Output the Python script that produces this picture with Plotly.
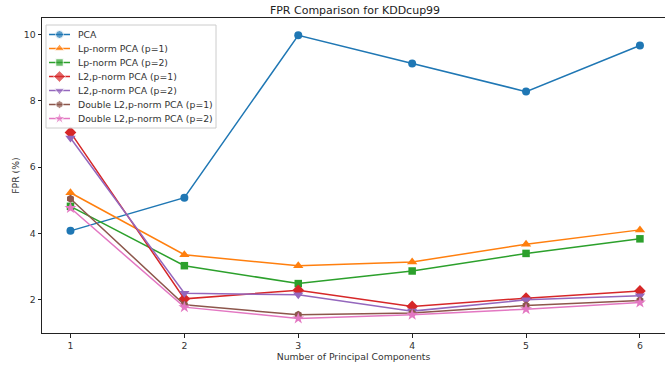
import plotly.graph_objects as go

components = [1, 2, 3, 4, 5, 6]
pca = [4.08, 5.08, 9.98, 9.13, 8.28, 9.67]
lp_p1 = [5.23, 3.36, 3.03, 3.14, 3.68, 4.11]
lp_p2 = [4.82, 3.03, 2.49, 2.87, 3.40, 3.84]
l2p_p1 = [7.05, 2.03, 2.29, 1.80, 2.05, 2.27]
l2p_p2 = [6.88, 2.20, 2.15, 1.66, 2.00, 2.12]
dl2p_p1 = [5.05, 1.85, 1.55, 1.60, 1.83, 1.98]
dl2p_p2 = [4.77, 1.78, 1.44, 1.55, 1.72, 1.92]
y_ticks = [2, 4, 6, 8, 10]

series = [
    ("PCA", pca, "#1f77b4", "circle", 8),
    ("Lp-norm PCA (p=1)", lp_p1, "#ff7f0e", "triangle-up", 9),
    ("Lp-norm PCA (p=2)", lp_p2, "#2ca02c", "square", 7.5),
    ("L2,p-norm PCA (p=1)", l2p_p1, "#d62728", "diamond", 9),
    ("L2,p-norm PCA (p=2)", l2p_p2, "#9467bd", "triangle-down", 9),
    ("Double L2,p-norm PCA (p=1)", dl2p_p1, "#8c564b", "hexagon", 8),
    ("Double L2,p-norm PCA (p=2)", dl2p_p2, "#e377c2", "star", 9),
]

W, H = 665, 365
ML, MT, MB = 42, 18, 32
font = "DejaVu Sans"

fig = go.Figure()
for name, vals, color, sym, ms in series:
    fig.add_trace(go.Scatter(
        x=components, y=vals, name=name, mode="lines+markers",
        line=dict(color=color, width=1.5),
        marker=dict(symbol=sym, size=ms, color=color),
        showlegend=False,
    ))

# custom matplotlib-style legend drawn on an overlay axis in screen pixels
bx0, by0, bx1, by1 = 46, 25, 216, 128
fig.add_trace(go.Scatter(
    x=[bx0, bx1, bx1, bx0, bx0], y=[by0, by0, by1, by1, by0],
    xaxis="x2", yaxis="y2", mode="lines", fill="toself",
    fillcolor="rgba(255,255,255,0.85)", line=dict(color="#cccccc", width=1),
    hoverinfo="skip", showlegend=False,
))
row0, row_step = 34.5, 14.0
annotations = []
for i, (name, vals, color, sym, ms) in enumerate(series):
    yy = row0 + i * row_step
    fig.add_trace(go.Scatter(
        x=[49, 59.5, 70], y=[yy, yy, yy], xaxis="x2", yaxis="y2",
        mode="lines+markers", line=dict(color=color, width=1.5),
        marker=dict(symbol=sym, size=[0, ms, 0], color=color),
        hoverinfo="skip", showlegend=False,
    ))
    annotations.append(dict(
        x=76, y=yy, xref="x2", yref="y2", text=name, showarrow=False,
        xanchor="left", yanchor="middle", font=dict(size=9.3, color="#333"),
    ))

fig.update_layout(
    width=W, height=H,
    margin=dict(l=ML, r=0, t=MT, b=MB),
    paper_bgcolor="white", plot_bgcolor="white",
    font=dict(family=font, size=9.3, color="#333"),
    title=dict(text="FPR Comparison for KDDcup99", x=355 / W, xanchor="center",
               y=1 - 10.5 / H, yanchor="middle", yref="container",
               font=dict(size=11, color="#222")),
    xaxis=dict(range=[0.75, 6.22], tickvals=components, showgrid=False, zeroline=False,
               showline=True, linecolor="#222", linewidth=1, mirror=True,
               ticks="outside", ticklen=3.5, tickcolor="#222", automargin=False,
               title=dict(text="Number of Principal Components", font=dict(size=9.3), standoff=3),
               tickfont=dict(size=9.3)),
    yaxis=dict(range=[1.0, 10.5], tickvals=y_ticks, showgrid=False, zeroline=False,
               showline=True, linecolor="#222", linewidth=1, mirror=True,
               ticks="outside", ticklen=3.5, tickcolor="#222", automargin=False,
               title=dict(text="FPR (%)", font=dict(size=9.3), standoff=2),
               tickfont=dict(size=9.3)),
    xaxis2=dict(overlaying="x", range=[ML, W], visible=False, fixedrange=True),
    yaxis2=dict(overlaying="y", range=[H - MB, MT], visible=False, fixedrange=True),
    annotations=annotations,
    showlegend=False,
)

fig.write_html("out.html", config={"displayModeBar": False},
               post_script="document.body.style.margin='0px';document.body.style.overflow='hidden';")
